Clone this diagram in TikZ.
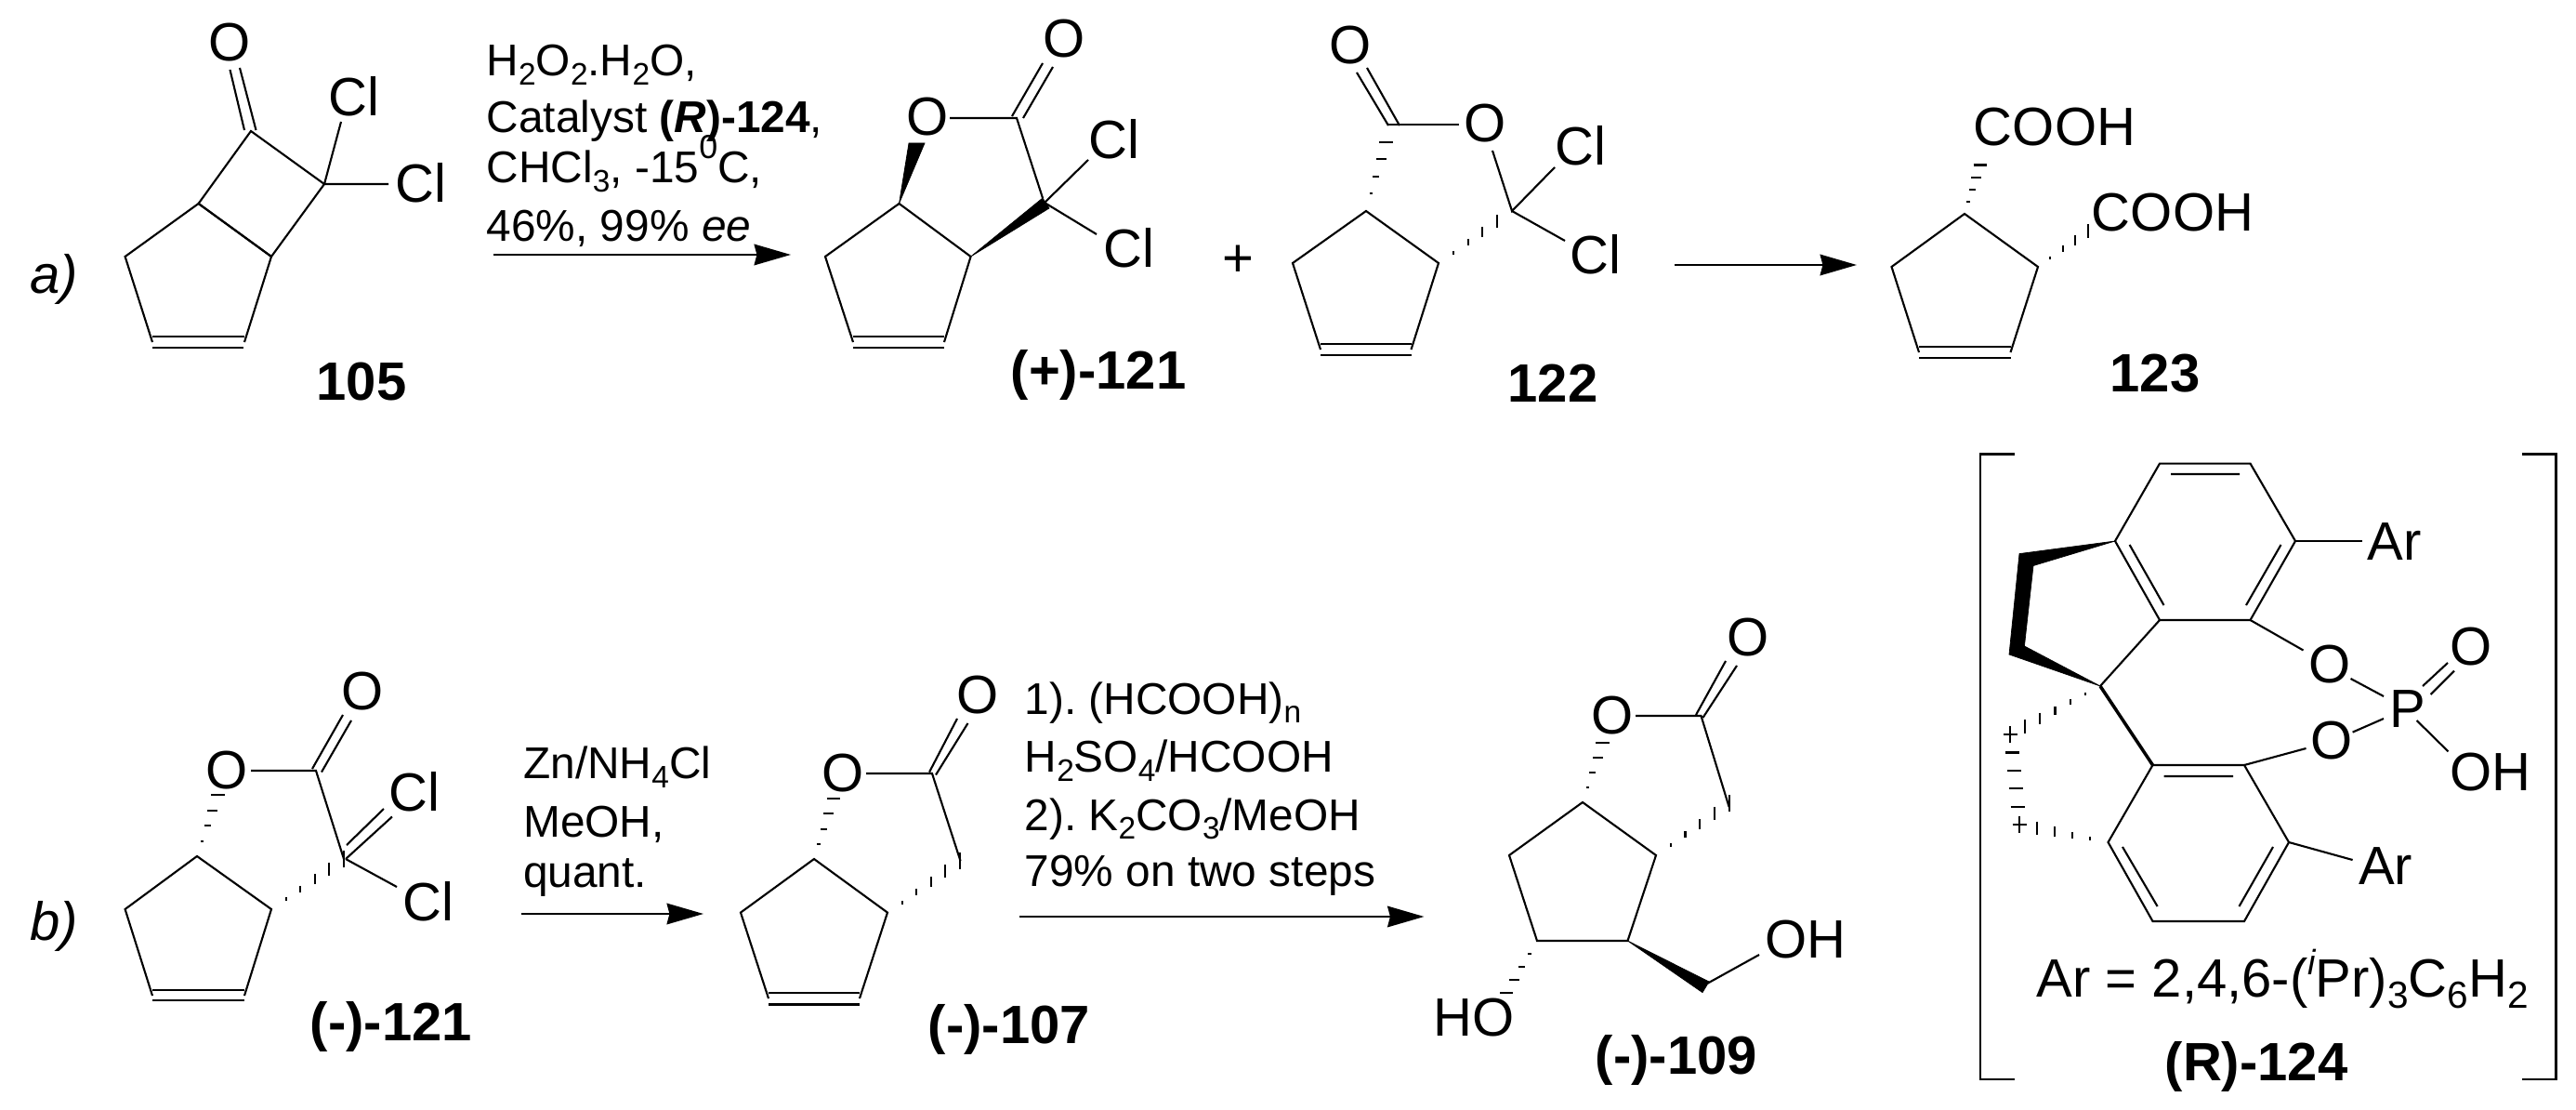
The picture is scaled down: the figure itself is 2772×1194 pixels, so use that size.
\documentclass[tikz,border=0pt]{standalone}
\usepackage{fontspec}
\setmainfont{Liberation Sans}
\usetikzlibrary{arrows.meta}
\frenchspacing
\newcommand\sbs[1]{\raisebox{-0.2em}{\scalebox{0.7}{#1}}}
\newcommand\sps[1]{\raisebox{0.55em}{\scalebox{0.75}{#1}}}
% hashed bonds: x1 y1 x2 y2 count divisions
\newcommand\hashH[6]{\foreach \i in {1,...,#5}{%
  \pgfmathsetmacro\tv{\i/#6}%
  \pgfmathsetmacro\xx{#1+\tv*(#3-#1)}%
  \pgfmathsetmacro\yy{#2+\tv*(#4-#2)}%
  \pgfmathsetmacro\hl{9*\tv}%
  \draw[bond] (\xx-\hl,\yy) -- (\xx+\hl,\yy);}}
\newcommand\hashV[6]{\foreach \i in {1,...,#5}{%
  \pgfmathsetmacro\tv{\i/#6}%
  \pgfmathsetmacro\xx{#1+\tv*(#3-#1)}%
  \pgfmathsetmacro\yy{#2+\tv*(#4-#2)}%
  \pgfmathsetmacro\hl{9*\tv}%
  \draw[bond] (\xx,\yy-\hl) -- (\xx,\yy+\hl);}}
\tikzset{
  bond/.style={line width=0.6pt,line cap=butt,line join=miter,black},
  bracketline/.style={line width=0.65pt,black},
  wedge/.style={fill=black,draw=black,line width=0.2pt},
  rxn/.style={line width=0.75pt,black,-{Stealth[length=11.2pt,width=6.4pt,inset=0.8pt]}},
  atom/.style={font=\fontsize{16.5}{19}\selectfont,inner sep=0pt,anchor=center},
  reag/.style={font=\fontsize{13.6}{16}\selectfont,inner sep=0pt,anchor=base west},
  lab/.style={font=\fontsize{16.5}{19}\selectfont\bfseries,inner sep=0pt,anchor=base},
  tag/.style={font=\fontsize{16.5}{19}\selectfont\itshape,inner sep=0pt,anchor=base west},
}
\begin{document}
\begin{tikzpicture}[x=0.01cm,y=-0.01cm]
\useasboundingbox (0,0) rectangle (2772,1194);
\fill[white] (0,0) rectangle (2772,1194);

% ---------- tags
\node[tag] (taga) at (32,315) {a)};
\node[tag] (tagb) at (32,1011) {b)};

% ---------- 105
\draw[bond] (164,368)--(134.6,276)--(213.6,219)--(292,276)--(263,368);
\draw[bond] (164,362)--(263,362) (164,374)--(262,374);
\draw[bond] (213.6,219)--(270,141)--(349,198)--(292,276) (213.6,219)--(292,276);
\draw[bond] (247.5,75)--(263,140) (258,73)--(275.5,140);
\draw[bond] (349,198)--(367,131) (349,198)--(418,198);
\node[atom] (o105) at (247,46) {O};
\node[atom] (cl105a) at (381,104) {Cl};
\node[atom] (cl105b) at (453,197) {Cl};
\node[lab] (l105) at (389,430) {105};

% ---------- reagents 1
\node[reag] (r1a) at (523,82) {H\sbs{2}O\sbs{2}.H\sbs{2}O,};
\node[reag] (r1b) at (523,143) {Catalyst {\bfseries(\itshape R\upshape)-124},};
\node[reag] (r1c) at (523,197) {CHCl\sbs{3}, -15\sps{0}C,};
\node[reag] (r1d) at (523,260) {46\%, 99\% \textit{ee}};
\coordinate (a1s) at (531,274); \coordinate (a1e) at (851,274);
\draw[rxn] (a1s)--(a1e);

% ---------- (+)-121
\draw[bond] (918,368)--(888,276)--(967.5,219)--(1044.6,276)--(1016,368);
\draw[bond] (918,362)--(1016,362) (918,374)--(1016,374);
\fill[wedge] (967.5,219)--(978,154)--(995,154)--cycle;
\fill[wedge] (1044.6,276)--(1122,213)--(1129,224)--cycle;
\draw[bond] (1022,127)--(1094,127)--(1122,213);
\draw[bond] (1089,125)--(1122,68) (1101,127)--(1133,72);
\draw[bond] (1124,218)--(1171,172) (1124,218)--(1180,252);
\node[atom] (o121a) at (998.5,126) {O};
\node[atom] (o121b) at (1145,42) {O};
\node[atom] (cl121a) at (1199,150) {Cl};
\node[atom] (cl121b) at (1215,267) {Cl};
\node[lab] (l121p) at (1182,418) {(+)-121};
\node[atom] (plus) at (1332,281) {+};

% ---------- 122
\draw[bond] (1421,376)--(1391,283)--(1470,227)--(1548,283)--(1518.5,376);
\draw[bond] (1421,370)--(1518.5,370) (1421,382)--(1518.5,382);
\hashH{1470}{227}{1497}{134}{4}{5}
\hashV{1548}{283}{1627}{227}{4}{5}
\draw[bond] (1460,78)--(1494,135) (1471,73)--(1506,135);
\draw[bond] (1494,134)--(1569.5,134);
\draw[bond] (1606,162)--(1627,227)--(1673,180) (1627,227)--(1684,259);
\node[atom] (o122a) at (1453,49) {O};
\node[atom] (o122b) at (1598,133) {O};
\node[atom] (cl122a) at (1701,157) {Cl};
\node[atom] (cl122b) at (1717,274) {Cl};
\node[lab] (l122) at (1671,432) {122};
\coordinate (a2s) at (1802,285); \coordinate (a2e) at (1998,285);
\draw[rxn] (a2s)--(a2e);

% ---------- 123
\draw[bond] (2065,379)--(2035.5,287)--(2114,230)--(2193,287)--(2163.5,379);
\draw[bond] (2065,373)--(2163.5,373) (2065,385)--(2163.5,385);
\hashH{2114}{230}{2135}{165}{4}{4.95}
\hashV{2193}{287}{2260}{239}{4}{5}
\node[atom] (c123a) at (2211,137) {COOH};
\node[atom] (c123b) at (2338,229) {COOH};
\node[lab] (l123) at (2319,421) {123};

% ---------- (-)-121
\draw[bond] (164,1071)--(134.6,978)--(212,921)--(292,978)--(263,1071);
\draw[bond] (164,1065)--(263,1065) (164,1076)--(263,1076);
\hashH{212}{921}{240}{839}{4}{5}
\hashV{292}{978}{370}{924}{5}{5}
\draw[bond] (270,829)--(340,829)--(370,924);
\draw[bond] (336,827)--(369,769) (346,830.5)--(378,775);
\draw[bond] (373,909)--(413,870) (372,924)--(422,878.5) (372,924)--(427,954);
\node[atom] (o121c) at (244,829) {O};
\node[atom] (o121d) at (390,744) {O};
\node[atom] (cl121c) at (446,852) {Cl};
\node[atom] (cl121d) at (461,969.5) {Cl};
\node[lab] (l121m) at (421,1119) {(-)-121};

% ---------- reagents 2
\node[reag] (r2a) at (562.5,837.5) {Zn/NH\sbs{4}Cl};
\node[reag] (r2b) at (562.5,900) {MeOH,};
\node[reag] (r2c) at (562.5,954) {quant.};
\coordinate (a3s) at (561,983); \coordinate (a3e) at (757,983);
\draw[rxn] (a3s)--(a3e);

% ---------- (-)-107
\draw[bond] (827,1074)--(797,981.6)--(876,924)--(955,981.6)--(925,1074);
\draw[bond] (827,1068)--(925,1068) (827,1080.5)--(925,1080.5);
\hashH{876}{924}{902}{843}{4}{5}
\hashV{955}{982}{1033}{926}{5}{5}
\draw[bond] (932,832)--(1003,832)--(1033.5,926);
\draw[bond] (1000,830.6)--(1030,773) (1007,833.5)--(1041.5,778);
\node[atom] (o107a) at (907,832) {O};
\node[atom] (o107b) at (1052,748) {O};
\node[lab] (l107) at (1086,1122.5) {(-)-107};

% ---------- reagents 3
\node[reag] (r3a) at (1102,768) {1). (HCOOH)\sbs{n}};
\node[reag] (r3b) at (1102,830.6) {H\sbs{2}SO\sbs{4}/HCOOH};
\node[reag] (r3c) at (1102,893) {2). K\sbs{2}CO\sbs{3}/MeOH};
\node[reag] (r3d) at (1102,953) {79\% on two steps};
\coordinate (a4s) at (1097,986); \coordinate (a4e) at (1532.5,986);
\draw[rxn] (a4s)--(a4e);

% ---------- (-)-109
\draw[bond] (1703,863)--(1624,920)--(1654,1012)--(1751.5,1012)--(1782,920)--cycle;
\hashH{1703}{863}{1730}{783}{4}{5}
\hashV{1782}{920}{1860.6}{864}{5}{5}
\hashH{1654}{1012}{1613}{1081.5}{4}{5}
\draw[bond] (1760,770)--(1830.5,770)--(1860.6,868);
\draw[bond] (1825,769)--(1857,711) (1832.5,772)--(1869,716);
\fill[wedge] (1751.5,1012)--(1839,1056)--(1832,1067.6)--cycle;
\draw[bond] (1837,1058)--(1893,1027);
\node[atom] (o109a) at (1735,770) {O};
\node[atom] (o109b) at (1881,686) {O};
\node[atom] (ho109) at (1586,1095) {HO};
\node[atom] (oh109) at (1943,1011) {OH};
\node[lab] (l109) at (1804,1155.5) {(-)-109};

% ---------- (R)-124
\draw[bracketline] (2168,488.5)--(2131,488.5)--(2131,1161)--(2168,1161);
\draw[bracketline] (2714,488.5)--(2750.6,488.5)--(2750.6,1161)--(2714,1161);
\draw[bond] (2324,498.6)--(2421.5,498.6)--(2470,582)--(2421.5,667)--(2324,667)--(2276,582)--cycle;
\draw[bond] (2336,510)--(2410,510) (2454.5,586)--(2417,651) (2291.6,586)--(2328.5,651);
\draw[bond] (2470,582)--(2541.5,582);
\draw[bond] (2421.5,667)--(2478.5,699.5) (2529.5,730)--(2565,749);
\draw[bond] (2607,738)--(2634,713) (2615.6,747)--(2641,721.6);
\draw[bond] (2600.6,775)--(2634.5,808.4);
\draw[bond] (2531.6,787.6)--(2565,773) (2481.5,805)--(2415,823);
\draw[bond] (2316.5,823)--(2415,823)--(2463,906)--(2415,991)--(2316.5,991)--(2268.5,906)--cycle;
\draw[bond] (2328.5,835)--(2403,835) (2284,911)--(2321.6,975) (2446,911)--(2409.5,975);
\draw[bond] (2463,906)--(2531.6,925);
\draw[bond] (2324,667)--(2260,738);
\draw[line width=1pt,black] (2260,738)--(2316.5,823);
\fill[wedge] (2276,582)--(2173,595.6)--(2162,704)--(2260,738)--(2178.4,695)--(2188,608.5)--cycle;
\hashV{2260}{738}{2163}{790}{6}{6}
\hashV{2268.5}{906}{2173}{887}{5}{5}
\foreach \yv in {790,809.5,829,848,868,887}{
  \pgfmathsetmacro\xv{2163+(\yv-790)*10/97}
  \draw[bond] (\xv-7.5,\yv)--(\xv+7.5,\yv);
}
\node[atom] (ar1) at (2576.6,583) {Ar};
\node[atom] (o124a) at (2507,715) {O};
\node[atom] (p124) at (2591,763) {P};
\node[atom] (o124c) at (2659,696) {O};
\node[atom] (oh124) at (2680,831) {OH};
\node[atom] (o124b) at (2509,797) {O};
\node[atom] (ar2) at (2567,932) {Ar};
\node[atom,anchor=base west] (arexp) at (2191,1072.5) {Ar = 2,4,6-(\raisebox{0.42em}{\scalebox{0.65}{\itshape i}}Pr)\sbs{3}C\sbs{6}H\sbs{2}};
\node[lab] (l124) at (2428,1162.5) {(R)-124};
\end{tikzpicture}
\end{document}
